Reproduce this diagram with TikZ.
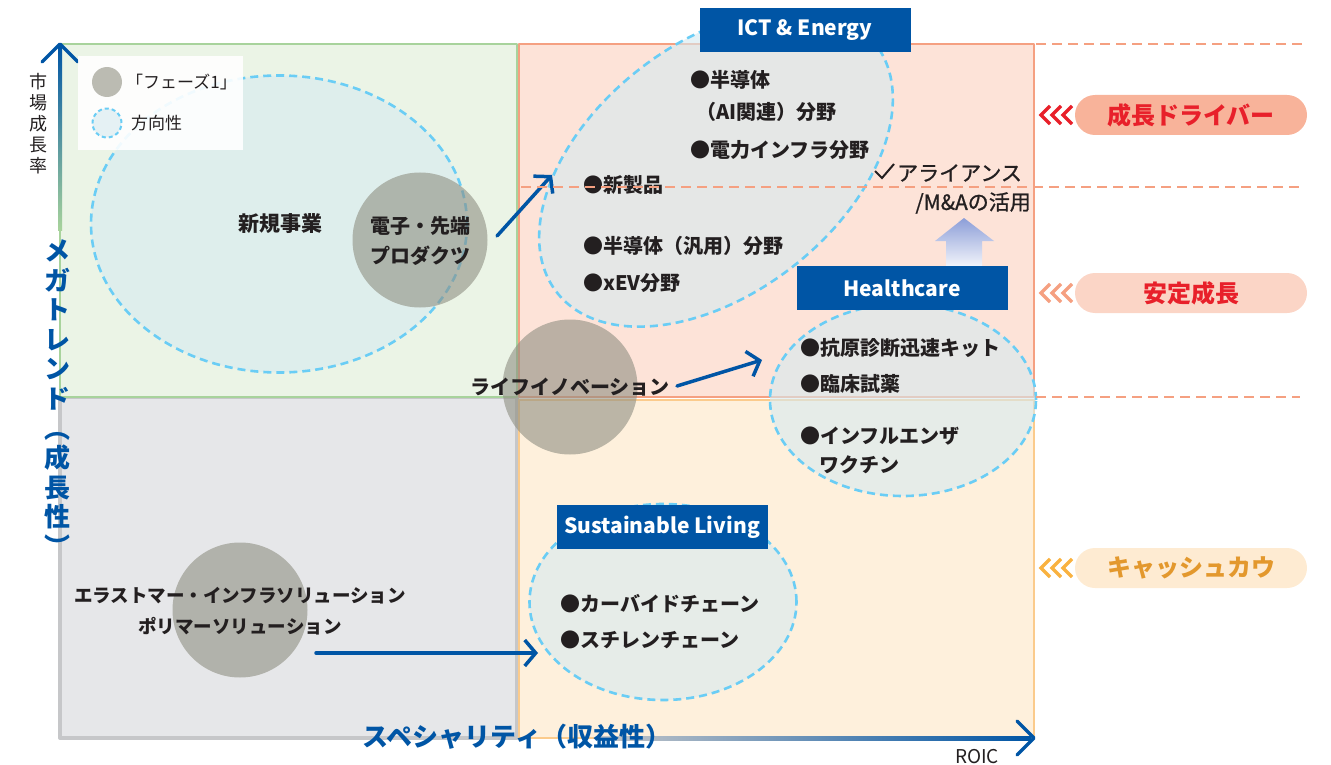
\documentclass[tikz,border=0pt]{standalone}
\usepackage{fontspec}
\setmainfont{Noto Sans CJK JP}
\newfontfamily\medfont[FakeBold=1]{Noto Sans CJK JP}
\usetikzlibrary{arrows.meta,shapes.geometric,positioning}

\definecolor{grnF}{HTML}{EBF4E6}
\definecolor{grnL}{HTML}{A8D39C}
\definecolor{salF}{HTML}{FDE3D8}
\definecolor{salL}{HTML}{F5A081}
\definecolor{gryF}{HTML}{E6E7E9}
\definecolor{gryL}{HTML}{C6C7C9}
\definecolor{orgF}{HTML}{FEF0DC}
\definecolor{orgL}{HTML}{FBCB8C}
\definecolor{blueM}{HTML}{0055A5}
\definecolor{skyD}{HTML}{6ACDF5}
\definecolor{dirF}{HTML}{D6EAF0}
\definecolor{phaseF}{HTML}{8F8F82}
\definecolor{txtD}{HTML}{231F20}
\definecolor{upC}{HTML}{8C9ED8}
\definecolor{pillR}{HTML}{F8B39A}
\definecolor{pillS}{HTML}{FBD5C6}
\definecolor{pillO}{HTML}{FEEBD2}
\definecolor{redT}{HTML}{E8202A}
\definecolor{orgT}{HTML}{E3982D}
\definecolor{orgC}{HTML}{F9B240}

\newcommand\fsz[2]{\fontsize{#1}{#2}\selectfont}

\begin{document}
\begin{tikzpicture}[x=1pt, y=-1pt, line cap=round, line join=round,
  >={Straight Barb[length=11pt,width=26pt]},
  quad/.style={line width=2.5pt},
  guide/.style={draw=salL, line width=1.4pt, dash pattern=on 10pt off 6pt, line cap=butt},
  direc/.style={draw=skyD, line width=2.6pt, dash pattern=on 8pt off 5pt, line cap=butt,
    fill=dirF, fill opacity=0.6, text opacity=1, inner sep=0pt, outer sep=0pt},
  phase/.style={circle, fill=phaseF, fill opacity=0.6, text opacity=1, inner sep=0pt, minimum size=135pt},
  flow/.style={->, draw=blueM, line width=3.5pt},
  tag/.style={fill=blueM, text=white, inner sep=0pt, minimum width=211pt, minimum height=44pt, font=\bfseries\fsz{21}{21}},
  item/.style={anchor=west, inner sep=0pt, text=txtD, font=\bfseries\fsz{20}{20}},
  pill/.style={rounded corners=20pt, minimum width=232pt, minimum height=40pt, inner sep=0pt, font=\bfseries\fsz{24}{24}},
  chev/.style={line width=3.5pt, line cap=butt, line join=miter}]

\useasboundingbox (0,0) rectangle (1331,765);

%---------------------------------------------------------------------------------------------------
% quadrants
\draw[quad, draw=gryL, fill=gryF, line width=4pt] (60,397) rectangle (517,738);
\draw[quad, draw=orgL, fill=orgF] (519,400) rectangle (1034,738);
\draw[quad, draw=grnL, fill=grnF] (60,44) rectangle (517,397);
\draw[quad, draw=salL, fill=salF] (519,44) rectangle (1034,397);

% axes
\shade[top color=blueM, bottom color=grnL] (58,46) rectangle (62,230);
\coordinate (yl) at (42,62);
\coordinate (yt) at (60,44);
\coordinate (yr) at (78,62);
\draw[blueM, line width=3.5pt] (yl) -- (yt) -- (yr);
\shade[left color=gryL, right color=blueM] (600,736) rectangle (1031,740);
\coordinate (xu) at (1017,721);
\coordinate (xt) at (1034,738);
\coordinate (xd) at (1017,755);
\draw[blueM, line width=3.5pt] (xu) -- (xt) -- (xd);

%---------------------------------------------------------------------------------------------------
% new business
\node[direc, ellipse, minimum width=376pt, minimum height=297pt] (newbiz) at (279,224) {};
\node[font=\bfseries\fsz{21}{21}, text=txtD, inner sep=0pt] (newbizT) at (280,224) {新規事業};
\node[phase] (denshi) at (420,240) {};
\node[font=\bfseries\fsz{20}{30}, text=txtD, align=center, inner sep=0pt] (denshiT) at (420,241)
  {電子・先端\\プロダクツ};

% ICT & Energy
\node[direc, ellipse, rotate=38, minimum width=404pt, minimum height=250pt] (ict) at (716,168) {};
\node[tag] (ictT) at (805,30) {ICT \& Energy};
\node[item] (ict1) at (690,80) {●半導体};
\node[item] (ict2) at (696,112) {（AI関連）分野};
\node[item] (ict3) at (690,150) {●電力インフラ分野};
\node[item] (ict4) at (583,185) {●新製品};
\node[item] (ict5) at (583,246) {●半導体（汎用）分野};
\node[item] (ict6) at (583,283) {●xEV分野};

% alliance
\draw[txtD, line width=2pt, line cap=butt, line join=miter] (875,171) -- (882,178) -- (894,164);
\node[anchor=west, inner sep=0pt, text=txtD, font=\medfont\fsz{21}{21}] (alli) at (897,173) {アライアンス};
\node[anchor=east, inner sep=0pt, text=txtD, font=\medfont\fsz{21}{21}] (alliMA) at (1031,203) {/M\&Aの活用};
\shade[top color=upC, bottom color=upC!12] (964,218) -- (935,241) -- (946,241) -- (946,266)
  -- (982,266) -- (982,241) -- (994,241) -- cycle;

% Healthcare
\node[direc, ellipse, minimum width=266pt, minimum height=192pt] (hc) at (903,400) {};
\node[tag] (hcT) at (902,288) {Healthcare};
\node[item] (hc1) at (800,348) {●抗原診断迅速キット};
\node[item] (hc2) at (800,384) {●臨床試薬};
\node[item] (hc3) at (800,436) {●インフルエンザ};
\node[item] (hc4) at (819,465) {ワクチン};

% life innovation
\node[phase] (life) at (570,387) {};
\node[font=\bfseries\fsz{20}{20}, text=txtD, inner sep=0pt] (lifeT) at (570,387) {ライフイノベーション};

% Sustainable Living
\node[direc, ellipse, minimum width=267pt, minimum height=196pt] (sus) at (663,602) {};
\node[tag] (susT) at (662,527) {Sustainable Living};
\node[item] (sus1) at (560,604) {●カーバイドチェーン};
\node[item] (sus2) at (560,640) {●スチレンチェーン};

% elastomer
\node[phase] (ela) at (240,610) {};
\node[font=\bfseries\fsz{18.5}{31}, text=txtD, align=center, inner sep=0pt] (elaT) at (240,611)
  {エラストマー・インフラソリューション\\ポリマーソリューション};

% flows
\coordinate (f1s) at (497,236);
\coordinate (f1e) at (552,175);
\coordinate (f2s) at (677,386);
\coordinate (f2e) at (762,360);
\coordinate (f3s) at (316,653);
\coordinate (f3e) at (538,653);
\draw[flow] (f1s) -- (f1e);
\draw[flow] (f2s) -- (f2e);
\draw[flow] (f3s) -- (f3e);

%---------------------------------------------------------------------------------------------------
% guide lines
\draw[guide] (1036,44) -- (1305,44);
\draw[guide] (521,187) -- (1300,187);
\draw[guide] (1036,397) -- (1300,397);

% stages
\node[pill, fill=pillR, text=redT] (drv) at (1191,115) {成長ドライバー};
\node[pill, fill=pillS, text=redT] (stab) at (1191,293) {安定成長};
\node[pill, fill=pillO, text=orgT] (cash) at (1191,568) {キャッシュカウ};
\foreach \y/\c in {115/redT, 293/salL, 568/orgC}
  \foreach \k in {0,1,2}
    \draw[chev, \c] ({1050+11*\k},{\y-9}) -- ({1041+11*\k},\y) -- ({1050+11*\k},{\y+9});

% legend
\node[fill=white, fill opacity=0.9, minimum width=165pt, minimum height=94pt, inner sep=0pt] (leg) at (160.5,103) {};
\node[phase, minimum size=30pt] (legP) at (107,82) {};
\node[direc, circle, minimum size=29pt, line width=2pt, dash pattern=on 4pt off 3pt] (legD) at (107,123) {};
\node[anchor=west, inner sep=0pt, text=txtD, font=\fsz{17}{17}] (legPT) at (126,82) {「フェーズ1」};
\node[anchor=west, inner sep=0pt, text=txtD, font=\fsz{17}{17}] (legDT) at (131,123) {方向性};

% axis labels
\node[align=center, inner sep=0pt, text=txtD, font=\fsz{18}{21}] (ylab) at (38,124)
  {市\\場\\成\\長\\率};
\node[align=center, inner sep=0pt, text=blueM, font=\bfseries\fsz{26}{29.6}] (ymeg) at (57,398)
  {メ\\ガ\\ト\\レ\\ン\\ド\\︵\\成\\長\\性\\︶};
\node[inner sep=0pt, text=blueM, font=\bfseries\fsz{26}{26}] (xspe) at (517,737) {スペシャリティ（収益性）};
\node[inner sep=0pt, text=txtD, font=\fsz{19}{19}] (xroic) at (977,757) {ROIC};

\end{tikzpicture}
\end{document}
